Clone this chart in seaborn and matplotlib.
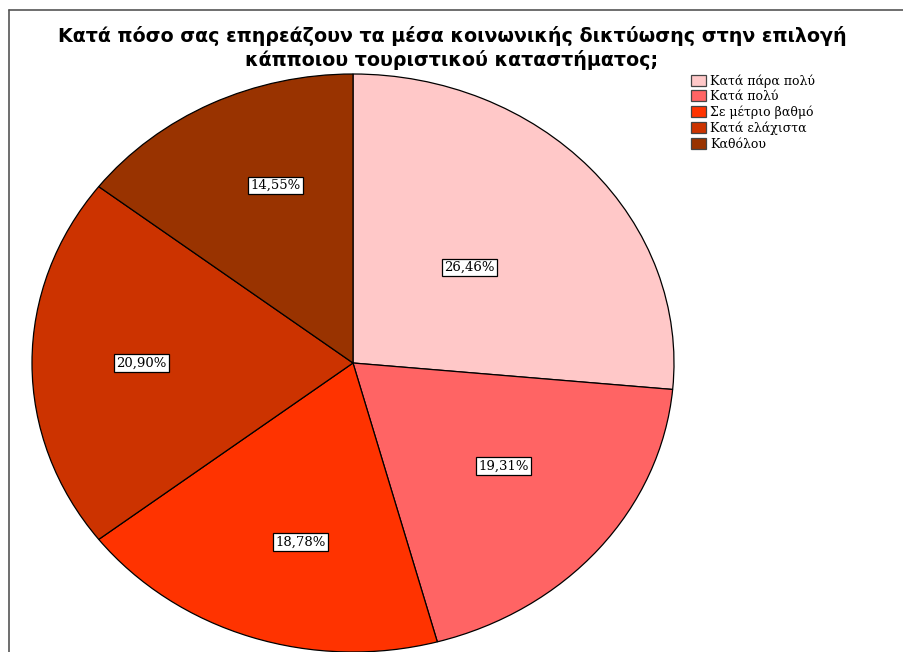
import matplotlib
matplotlib.use("Agg")
import matplotlib.pyplot as plt
from matplotlib.lines import Line2D
import numpy as np
import seaborn as sns

sns.set_theme(style="white")
plt.rcParams['font.family'] = ['DejaVu Sans']
plt.rcParams['text.color'] = 'black'

categories = ["Κατά πάρα πολύ", "Κατά πολύ", "Σε μέτριο βαθμό", "Κατά ελάχιστα", "Καθόλου"]
percentages = [26.46, 19.31, 18.78, 20.90, 14.55]
colors = sns.color_palette(["#FFC8C8", "#FF6464", "#FF3300", "#CC3300", "#993300"])
title = "Κατά πόσο σας επηρεάζουν τα μέσα κοινωνικής δικτύωσης στην επιλογή\nκάπποιου τουριστικού καταστήματος;"

# placement of each percentage box: radial fraction and angular nudge (degrees)
label_radius = [0.49, 0.59, 0.64, 0.66, 0.66]
label_nudge = [0.0, 2.8, 3.8, 0.0, -4.7]

W, H = 904, 652
fig = plt.figure(figsize=(W / 100, H / 100), dpi=100)
fig.patch.set_facecolor("white")

# pie drawn slightly wider than tall
cx, cy, rx, ry = 353, 363, 321, 289
ax = fig.add_axes([(cx - rx) / W, (H - cy - ry) / H, 2 * rx / W, 2 * ry / H])

wedges, _ = ax.pie(percentages, colors=colors, startangle=90, counterclock=False,
                   radius=1, wedgeprops=dict(edgecolor="black", linewidth=0.9))
ax.set_xlim(-1, 1)
ax.set_ylim(-1, 1)
ax.set_aspect("auto")
ax.axis("off")

for w, pct, rf, nd in zip(wedges, percentages, label_radius, label_nudge):
    ang = np.deg2rad((w.theta1 + w.theta2) / 2 + nd)
    ax.text(rf * np.cos(ang), rf * np.sin(ang), f"{pct:.2f}%".replace(".", ","),
            ha="center", va="center", fontsize=9.5, family=["DejaVu Serif"], color="black",
            bbox=dict(boxstyle="square,pad=0.18", fc="white", ec="black", lw=0.9),
            clip_on=False)

fig.text(0.5, 1 - 48 / H, title, ha="center", va="center", fontsize=13.7,
         fontweight="bold", linespacing=1.2, color="black")

handles = [plt.Rectangle((0, 0), 1, 1, fc=c, ec="#444444", lw=0.9) for c in colors]
leg = fig.legend(handles, categories, loc="upper left", bbox_to_anchor=(691 / W, 1 - 74 / H),
                 frameon=False, prop=dict(family="DejaVu Serif", size=9),
                 handlelength=1.2, handleheight=1.0, handletextpad=0.35,
                 labelspacing=0.2, borderaxespad=0, borderpad=0, labelcolor="black")

# outer frame (top and left edges visible)
fig.add_artist(Line2D([9 / W, 1], [1 - 10 / H, 1 - 10 / H], transform=fig.transFigure,
                      color="#555555", lw=1.2))
fig.add_artist(Line2D([9 / W, 9 / W], [0, 1 - 10 / H], transform=fig.transFigure,
                      color="#555555", lw=1.2))

fig.savefig("out.png", dpi=100)
